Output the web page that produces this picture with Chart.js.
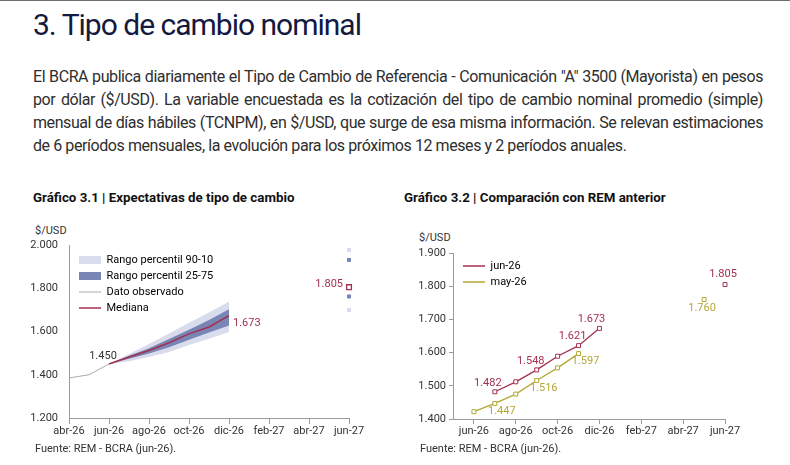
<!DOCTYPE html>
<html lang="es">
<head>
<meta charset="utf-8">
<title>Tipo de cambio nominal</title>
<script src="https://cdn.jsdelivr.net/npm/chart.js@4.4.1/dist/chart.umd.min.js"></script>
<style>
  body { margin: 0; width: 790px; height: 465px; overflow: hidden; background: #fff; font-family: Roboto, sans-serif; position: relative; }
  .linea { position: absolute; left: 0; top: 0; width: 790px; height: 1px; background: #6e6e6e; }
  h1 { position: absolute; left: 33px; top: 10px; margin: 0; font-size: 30px; line-height: 30px; font-weight: 400; letter-spacing: -1px; color: #14193f; }
  .texto { position: absolute; left: 33px; top: 65px; width: 730px; font-size: 16px; line-height: 23px; letter-spacing: -0.42px; color: #2e2e2e; }
  .texto div { white-space: nowrap; text-align: justify; text-align-last: justify; }
  .texto div.ultima { text-align-last: left; }
  .tit { position: absolute; top: 191px; font-size: 13.3px; line-height: 13px; font-weight: 700; color: #111; }
  .chico { position: absolute; font-size: 11px; line-height: 11px; color: #333; }
  .grafico { position: absolute; }
</style>
</head>
<body>
<div class="linea"></div>
<h1>3. Tipo de cambio nominal</h1>
<div class="texto">
  <div>El BCRA publica diariamente el Tipo de Cambio de Referencia - Comunicación "A" 3500 (Mayorista) en pesos</div>
  <div>por dólar ($/USD). La variable encuestada es la cotización del tipo de cambio nominal promedio (simple)</div>
  <div>mensual de días hábiles (TCNPM), en $/USD, que surge de esa misma información. Se relevan estimaciones</div>
  <div class="ultima">de 6 períodos mensuales, la evolución para los próximos 12 meses y 2 períodos anuales.</div>
</div>

<div class="tit" style="left:33px">Gráfico 3.1 | Expectativas de tipo de cambio</div>
<div class="tit" style="left:404px">Gráfico 3.2 | Comparación con REM anterior</div>
<div class="chico" style="left:35px; top:225px">$/USD</div>
<div class="chico" style="left:419px; top:232px">$/USD</div>

<div class="grafico" style="left:30px; top:225px"><canvas id="g31" width="339" height="218"></canvas></div>
<div class="grafico" style="left:400px; top:232px"><canvas id="g32" width="345" height="212"></canvas></div>

<div class="chico" style="left:35px; top:443px">Fuente: REM - BCRA (jun-26).</div>
<div class="chico" style="left:420px; top:443px">Fuente: REM - BCRA (jun-26).</div>

<script>
// Gráfico 3.1
const meses1 = ['abr-26','may-26','jun-26','jul-26','ago-26','sep-26','oct-26','nov-26','dic-26','ene-27','feb-27','mar-27','abr-27','may-27','jun-27'];
const observado = [1385, 1400, 1450];
const mediana = [null, null, 1450, 1482, 1512, 1548, 1589, 1621, 1673];
const p90 = [null, null, 1450, 1496, 1542, 1591, 1641, 1688, 1739];
const p75 = [null, null, 1450, 1488, 1523, 1565, 1608, 1653, 1703];
const p25 = [null, null, 1450, 1474, 1498, 1527, 1562, 1595, 1628];
const p10 = [null, null, 1450, 1462, 1482, 1505, 1538, 1566, 1598];
// jun-27: p90, p75, mediana, p25, p10
const anualJun27 = [1977, 1931, 1805, 1762, 1699];

// Gráfico 3.2
const meses2 = ['may-26','jun-26','jul-26','ago-26','sep-26','oct-26','nov-26','dic-26','ene-27','feb-27','mar-27','abr-27','may-27','jun-27'];
const remJun26 = [null, null, 1482, 1512, 1548, 1589, 1621, 1673, null, null, null, null, null, 1805];
const remMay26 = [null, 1422, 1447, 1475, 1516, 1554, 1597, null, null, null, null, null, 1760, null];

const bordo = '#a3304f';
const oliva = '#b3a834';
const claro = '#d8dcec';
const oscuro = '#7885b5';
const gris = '#aaaaaa';
const ejes = '#9a9a9a';

Chart.defaults.font.family = 'Roboto';
Chart.defaults.font.size = 11;
Chart.defaults.color = '#333';

const fmt = v => String(v).replace(/\B(?=(\d{3})+(?!\d))/g, '.');

// etiquetas de valores
const etiquetas = {
    id: 'etiquetas',
    afterDatasetsDraw(chart, args, opts) {
        const ctx = chart.ctx;
        ctx.save();
        ctx.font = '11px Roboto';
        ctx.textBaseline = 'middle';
        opts.items.forEach(e => {
            const pt = chart.getDatasetMeta(e.ds).data[e.i];
            const v = chart.data.datasets[e.ds].data[e.i];
            const val = (v !== null && typeof v === 'object') ? v.y : v;
            ctx.fillStyle = e.color;
            ctx.textAlign = e.align || 'center';
            ctx.fillText(fmt(val), pt.x + e.dx, pt.y + e.dy);
        });
        ctx.restore();
    }
};

// pone la leyenda arriba a la izquierda, dentro del area
const moverLeyenda = {
    id: 'moverLeyenda',
    afterLayout(chart, args, opts) {
        const l = chart.legend;
        if (l) {
            const h = l.bottom - l.top;
            l.left = chart.chartArea.left + 5;
            l.top = chart.chartArea.top + (opts.dy || 0);
            l.bottom = l.top + h;
        }
    }
};

function leyenda(items) {
    return {
        position: 'chartArea',
        align: 'start',
        labels: {
            usePointStyle: true,
            pointStyleWidth: 22,
            boxHeight: 8,
            padding: 5,
            color: '#333',
            font: { size: 11 },
            generateLabels: () => items.map(it => ({
                text: it.text,
                fillStyle: it.color,
                strokeStyle: it.color,
                lineWidth: it.line ? it.width : 0,
                pointStyle: it.line ? 'line' : 'rect',
                hidden: false,
                datasetIndex: it.ds
            }))
        }
    };
}

function ejeX(par, tickLen, pad) {
    return {
        type: 'category',
        offset: false,
        border: { color: ejes, width: 1 },
        grid: {
            drawOnChartArea: false,
            tickLength: tickLen,
            tickColor: c => (c.index % 2 === par ? ejes : 'transparent')
        },
        ticks: {
            autoSkip: false,
            maxRotation: 0,
            padding: pad,
            callback: function (val, idx) { return idx % 2 === par ? this.getLabelForValue(val) : ''; }
        },
        afterFit: s => { s.height = 25; }
    };
}

function ejeY(min, max, paso, ancho, tickColor, pad) {
    return {
        min: min, max: max,
        border: { color: ejes, width: 1 },
        grid: { drawOnChartArea: false, tickLength: 4, tickColor: tickColor },
        ticks: { stepSize: paso, padding: pad, callback: v => fmt(v) },
        afterFit: s => { s.width = ancho; }
    };
}

new Chart(document.getElementById('g31'), {
    type: 'line',
    data: {
        labels: meses1,
        datasets: [
            { label: 'Mediana', data: mediana, borderColor: bordo, borderWidth: 1.5, pointRadius: 0, fill: false },
            { label: 'Dato observado', data: observado, borderColor: gris, borderWidth: 1, pointRadius: 0, fill: false },
            { label: 'Rango percentil 25-75', data: p75, borderWidth: 0, pointRadius: 0, backgroundColor: oscuro, fill: '+1' },
            { label: 'p25', data: p25, borderWidth: 0, pointRadius: 0, fill: false },
            { label: 'Rango percentil 90-10', data: p90, borderWidth: 0, pointRadius: 0, backgroundColor: claro, fill: '+1' },
            { label: 'p10', data: p10, borderWidth: 0, pointRadius: 0, fill: false },
            {
                label: 'anual',
                data: anualJun27.map(v => ({ x: 'jun-27', y: v })),
                showLine: false,
                pointStyle: 'rect',
                pointRadius: [2.8, 2.8, 3.4, 2.8, 2.8],
                pointBorderWidth: [0, 0, 1.3, 0, 0],
                pointBackgroundColor: [claro, oscuro, '#fff', oscuro, claro],
                pointBorderColor: [claro, oscuro, bordo, oscuro, claro]
            }
        ]
    },
    options: {
        responsive: false,
        animation: false,
        events: [],
        layout: { padding: { top: 20, right: 20, bottom: 0, left: 0 } },
        scales: {
            x: ejeX(0, 6, 1),
            y: ejeY(1200, 2000, 200, 39, 'transparent', 7)
        },
        plugins: {
            tooltip: { enabled: false },
            moverLeyenda: { dy: 4.5 },
            legend: leyenda([
                { text: 'Rango percentil 90-10', color: claro, ds: 4 },
                { text: 'Rango percentil 25-75', color: oscuro, ds: 2 },
                { text: 'Dato observado', color: gris, line: true, width: 1, ds: 1 },
                { text: 'Mediana', color: bordo, line: true, width: 1.5, ds: 0 }
            ]),
            etiquetas: {
                items: [
                    { ds: 1, i: 2, dx: -6, dy: -8, color: '#333' },
                    { ds: 0, i: 8, dx: 4, dy: 8, align: 'left', color: bordo },
                    { ds: 6, i: 2, dx: -6, dy: -3, align: 'right', color: bordo }
                ]
            }
        }
    },
    plugins: [etiquetas, moverLeyenda]
});

new Chart(document.getElementById('g32'), {
    type: 'line',
    data: {
        labels: meses2,
        datasets: [
            {
                label: 'jun-26', data: remJun26, borderColor: bordo, borderWidth: 1.3,
                pointStyle: 'rect', pointRadius: 2.8, pointBorderWidth: 1,
                pointBackgroundColor: '#fff', pointBorderColor: bordo
            },
            {
                label: 'may-26', data: remMay26, borderColor: oliva, borderWidth: 1.3,
                pointStyle: 'rect', pointRadius: 2.8, pointBorderWidth: 1,
                pointBackgroundColor: '#fff', pointBorderColor: oliva
            }
        ]
    },
    options: {
        responsive: false,
        animation: false,
        events: [],
        layout: { padding: { top: 21, right: 20, bottom: 0, left: 0 } },
        scales: {
            x: ejeX(1, 5, 1),
            y: ejeY(1400, 1900, 100, 53, ejes, 3)
        },
        plugins: {
            tooltip: { enabled: false },
            moverLeyenda: { dy: 2.5 },
            legend: leyenda([
                { text: 'jun-26', color: bordo, line: true, width: 1.3, ds: 0 },
                { text: 'may-26', color: oliva, line: true, width: 1.3, ds: 1 }
            ]),
            etiquetas: {
                items: [
                    { ds: 0, i: 2, dx: -7, dy: -9, color: bordo },
                    { ds: 0, i: 4, dx: -6, dy: -9, color: bordo },
                    { ds: 0, i: 6, dx: -6, dy: -9, color: bordo },
                    { ds: 0, i: 7, dx: -8, dy: -9, color: bordo },
                    { ds: 0, i: 13, dx: -2, dy: -10, color: bordo },
                    { ds: 1, i: 2, dx: 7, dy: 8, color: oliva },
                    { ds: 1, i: 4, dx: 7, dy: 8, color: oliva },
                    { ds: 1, i: 6, dx: 7, dy: 8, color: oliva },
                    { ds: 1, i: 12, dx: -2, dy: 9, color: oliva }
                ]
            }
        }
    },
    plugins: [etiquetas, moverLeyenda]
});
</script>
</body>
</html>
